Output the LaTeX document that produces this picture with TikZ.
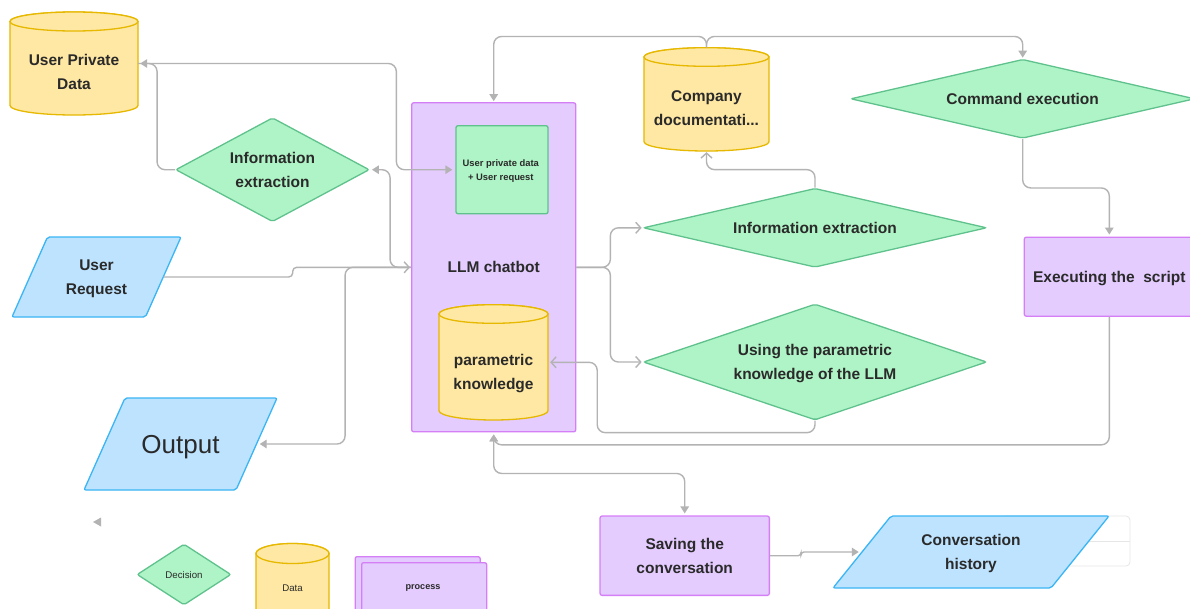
\documentclass[tikz,border=0pt]{standalone}
\usepackage{fontspec}
\setmainfont{Liberation Sans}
\usetikzlibrary{arrows.meta,shapes.geometric,calc}
\definecolor{linegray}{HTML}{B3B3B3}
\definecolor{textc}{HTML}{2A2A2A}
\definecolor{yfill}{HTML}{FFE8A3}
\definecolor{yline}{HTML}{E6B800}
\definecolor{gfill}{HTML}{AFF4C6}
\definecolor{gline}{HTML}{5FC28C}
\definecolor{bfill}{HTML}{BDE3FF}
\definecolor{bline}{HTML}{3AB5F5}
\definecolor{pfill}{HTML}{E4CCFF}
\definecolor{pline}{HTML}{D57FF7}
\definecolor{ghost}{HTML}{E6E6E6}
\newcommand{\fmain}{\fontsize{15.5}{24}\selectfont\bfseries}
\newcommand{\cylshape}[5]{%
  \pgfmathsetmacro\cylrx{(#3-#1)/2}%
  \pgfmathsetmacro\cylcx{(#3+#1)/2}%
  \filldraw[cyl] (#1,#2+#5) -- (#1,#4-#5) arc[start angle=180,end angle=0,x radius=\cylrx,y radius=#5] -- (#3,#2+#5) arc[start angle=0,end angle=-180,x radius=\cylrx,y radius=#5] -- cycle;
  \filldraw[cyl] (\cylcx,#2+#5) ellipse[x radius=\cylrx,y radius=#5];
}
\newcommand{\paral}[5]{%
  \filldraw[para] (#1+#5,#2) -- (#3,#2) -- (#3-#5,#4) -- (#1,#4) -- cycle;
}
\begin{document}
\begin{tikzpicture}[x=1pt,y=-1pt,
  >={Triangle[length=7pt,width=8.5pt]},
  conn/.style={draw=linegray,line width=1.4pt,rounded corners=8pt},
  chev/.style={-{Straight Barb[length=5pt,width=11pt]}},
  cyl/.style={draw=yline,fill=yfill,line width=1.3pt},
  para/.style={draw=bline,fill=bfill,line width=1.3pt,rounded corners=2pt},
  dia/.style={shape=diamond,draw=gline,fill=gfill,line width=1.3pt,inner sep=0pt,rounded corners=2pt,align=center,text=textc,font=\fmain,text depth=0pt},
  proc/.style={draw=pline,fill=pfill,line width=1.3pt,rounded corners=2pt,align=center,text=textc,font=\fmain,text depth=0pt},
  lbl/.style={align=center,text=textc,font=\fmain,inner sep=0pt,text depth=0pt},
  bbox/.style={inner sep=0pt,draw=none}
]
\clip (0,0) rectangle (1190,608);
\fill[white] (0,0) rectangle (1190,608);

% ---------- cylinders ----------
\cylshape{10}{12}{138}{115}{9.5}
\node[bbox,minimum width=128,minimum height=103] (upd) at (74,63.5) {};
\node[lbl] (updtxt) at (74,72) {User Private\\Data};

\cylshape{644}{47.7}{769}{151}{9.3}
\node[bbox,minimum width=125,minimum height=103.3] (cdoc) at (706.5,99.3) {};
\node[lbl] (cdoctxt) at (706.5,108.5) {Company\\documentati...};

% ---------- LLM chatbot ----------
\node[proc,minimum width=164,minimum height=329] (llm) at (493.7,267.3) {LLM chatbot};
\node[draw=gline,fill=gfill,line width=1.3pt,rounded corners=2pt,minimum width=92,minimum height=88,inner sep=0pt] (gbox) at (502,169.7) {};
\node[align=center,text=textc,font=\fontsize{9.4}{14}\selectfont\bfseries,inner sep=0pt,text depth=0pt] (gboxtxt) at (500.8,170) {User private data\\+ User request};
\cylshape{439}{304.7}{548}{420}{9.3}
\node[bbox,minimum width=109,minimum height=115.3] (pk) at (493.5,362.3) {};
\node[lbl] (pktxt) at (493.5,371.5) {parametric\\knowledge};

% ---------- diamonds ----------
\node[dia,minimum width=193.6,minimum height=104,aspect=1.86] (ie1) at (272.5,169.7) {Information\\extraction};
\node[dia,minimum width=344,minimum height=79,aspect=4.35] (cmd) at (1022.7,98.8) {Command execution};
\node[dia,minimum width=343.4,minimum height=79,aspect=4.35] (ie2) at (815,227.8) {Information extraction};
\node[dia,minimum width=343.4,minimum height=116,aspect=2.96] (use) at (815,362) {Using the parametric\\knowledge of the LLM};

% ---------- process boxes ----------
\node[proc,minimum width=170,minimum height=79] (exe) at (1109.3,276.7) {Executing the\ \ script};
\node[proc,minimum width=169.3,minimum height=79.3] (save) at (684.7,555.7) {Saving the\\conversation};

% ---------- parallelograms ----------
\paral{12}{237}{181}{317}{35.5}
\node[lbl,minimum width=134,minimum height=80] (ureq) at (96.5,277) {User\\Request};
\paral{84}{398}{277}{490}{41}
\node[inner sep=0pt,minimum width=152,minimum height=92,text=textc,font=\fontsize{26}{30}\selectfont,text depth=0pt] (out) at (180.5,444) {Output};
\draw[draw=ghost,line width=0.8pt,rounded corners=4pt,fill=white] (1000,516) rectangle (1130,566);
\draw[draw=ghost,line width=0.8pt] (1000,541.5) -- (1130,541.5);
\paral{833}{516}{1109}{588}{58}
\node[lbl,minimum width=218,minimum height=72] (conv) at (971,552) {Conversation\\history};

% ---------- connectors ----------
\draw[conn,->,shorten >=2pt] (ie1.west) -- ++(-18,0) |- (upd.east);
\draw[conn,->,shorten >=3pt] (upd.east) -| ([xshift=-59pt]gbox.west) -- (gbox.west);
\draw[conn,->,shorten >=2pt] (llm.west) -- ++(-21,0) |- (ie1.east);
\draw[conn,chev,rounded corners=4pt,shorten >=1pt] (ureq.east) -- ++(129,0) |- (llm.west);
\draw[conn,->,shorten >=3pt] (llm.west) -- ++(-66,0) |- (out.east);
\draw[conn,->,shorten >=1pt] (cdoc.north) -- ++(0,-11) -| (llm.north);
\draw[conn,->,shorten >=1pt] (cdoc.north) -- ++(0,-11) -| (cmd.north);
\draw[conn,chev,shorten >=1pt] (llm.east) -- ++(34,0) |- (ie2.west);
\draw[conn,chev,shorten >=1pt] (llm.east) -- ++(34,0) |- (use.west);
\draw[conn,chev,shorten >=1pt] (ie2.north) -- ++(0,-18) -| (cdoc.south);
\draw[conn,chev,shorten >=2pt] (use.south) -- ++(0,12) -| ([xshift=49pt]pk.east) -- (pk.east);
\draw[conn,->,shorten >=2pt] (cmd.south) -- ++(0,49) -| (exe.north);
\draw[conn,->,shorten >=2pt] (exe.south) -- ++(0,128) -| (llm.south);
\draw[conn,<->,shorten >=2pt,shorten <=2pt] (llm.south) -- ++(0,41) -| (save.north);
\draw[conn,->,rounded corners=3pt,shorten >=3pt] (save.east) -- ++(31,0) |- (conv.west);

% ---------- legend ----------
\fill[linegray] (93,522) -- (101,517.5) -- (101,526.5) -- cycle;
\node[dia,minimum width=94,minimum height=61,aspect=1.54,font=\fontsize{9.7}{12}\selectfont] (legdec) at (184,574.5) {Decision};
\cylshape{256}{543.5}{329}{680}{10}
\node[text=textc,font=\fontsize{9.7}{12}\selectfont,inner sep=0pt,text depth=0pt] (legdata) at (292.5,588) {Data};
\node[proc,minimum width=125,minimum height=80,anchor=north west] (legprocb) at (354.5,556) {};
\node[proc,minimum width=125,minimum height=80,anchor=north west] (legproc) at (361,562) {};
\node[text=textc,font=\fontsize{9.1}{12}\selectfont\bfseries,inner sep=0pt,text depth=0pt] (legproctxt) at (423,587) {process};
\end{tikzpicture}
\end{document}
